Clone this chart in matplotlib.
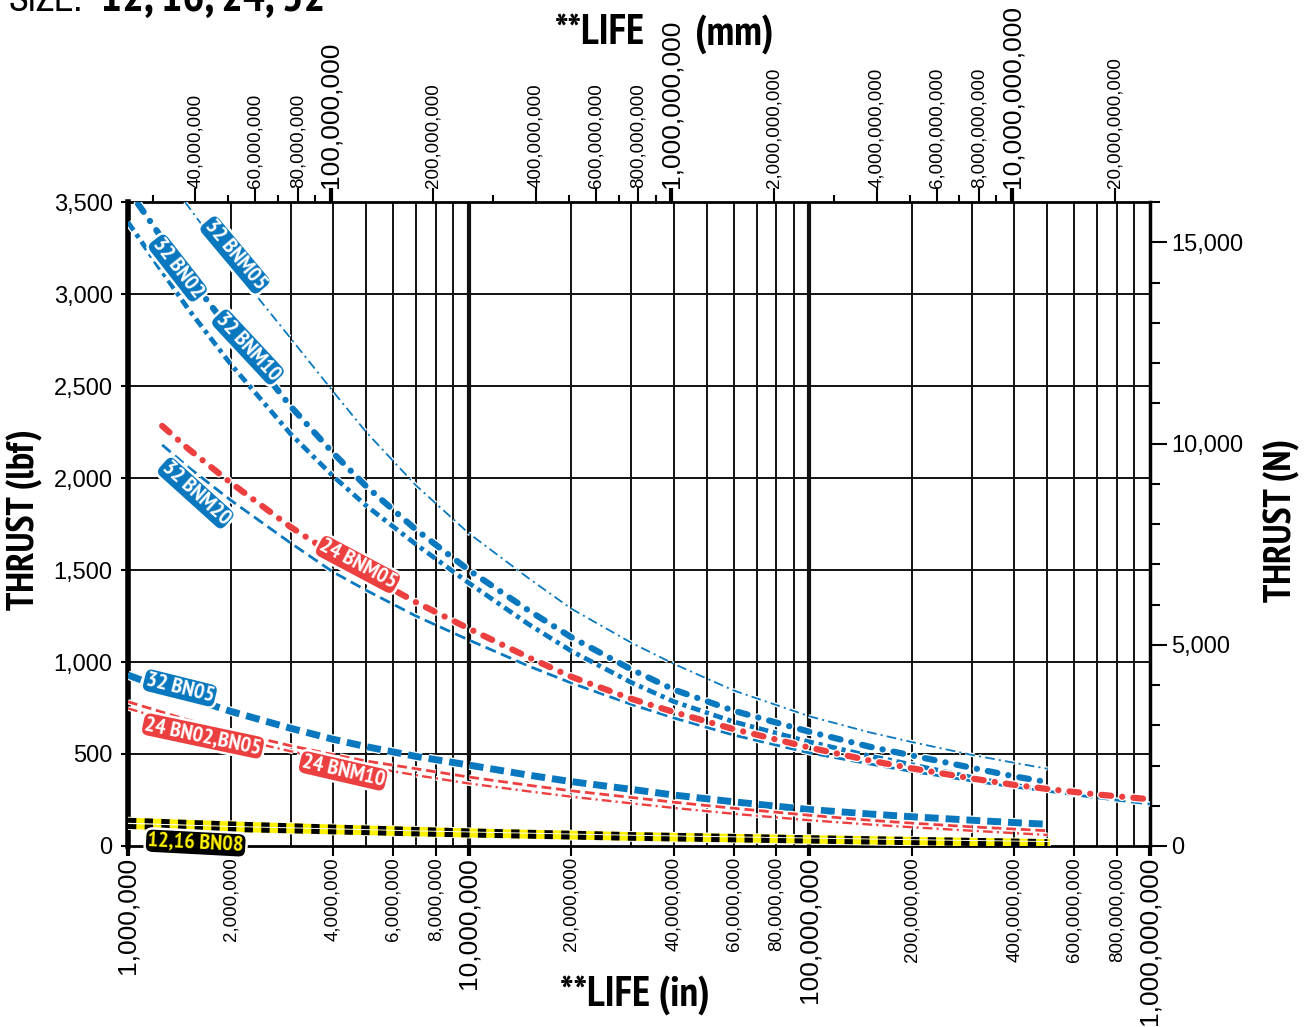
import matplotlib
matplotlib.use('Agg')
import matplotlib.pyplot as plt
import matplotlib.patheffects as pe
from matplotlib import font_manager as fm
from matplotlib.ticker import NullLocator, FixedLocator

plt.rcParams['lines.scale_dashes'] = False
plt.rcParams['font.family'] = ['Liberation Sans', 'DejaVu Sans']

BLUE = '#0a78bf'
RED = '#ec4040'
YELLOW = '#fff200'

# --- curves: life (in) vs thrust (lbf) ---
bnm05_32_life = [1.47e6, 2e6, 3e6, 4e6, 5e6, 7e6, 1e7, 1.5e7, 2e7, 3e7, 4e7, 6e7,
                 1e8, 1.5e8, 2e8, 3e8, 4e8, 5e8]
bnm05_32_lbf = [3500, 3165, 2760, 2470, 2250, 1960, 1700, 1455, 1290, 1105, 990, 845,
                705, 618, 565, 495, 452, 420]

bnm10_32_life = [1.07e6, 1.5e6, 2e6, 3e6, 4e6, 5e6, 7e6, 1e7, 1.5e7, 2e7, 3e7, 4e7, 6e7,
                 1e8, 1.5e8, 2e8, 3e8, 4e8, 5e8]
bnm10_32_lbf = [3490, 3100, 2800, 2390, 2136, 1955, 1720, 1500, 1280, 1135, 960, 850, 735,
                621, 540, 492, 425, 378, 347]

bn02_32_life = [1e6, 1.5e6, 2e6, 3e6, 4e6, 5e6, 7e6, 1e7, 1.5e7, 2e7, 3e7, 4e7, 6e7,
                1e8, 1.5e8, 2e8, 3e8, 4e8, 5e8]
bn02_32_lbf = [3390, 2920, 2620, 2240, 2010, 1850, 1640, 1430, 1205, 1060, 889, 785, 675,
               566, 490, 442, 373, 330, 305]

bnm05_24_life = [1.26e6, 1.5e6, 2e6, 3e6, 4e6, 5e6, 7e6, 1e7, 1.5e7, 2e7, 3e7, 4e7, 6e7,
                 1e8, 1.5e8, 2e8, 3e8, 4e8, 5e8, 7e8, 1e9]
bnm05_24_lbf = [2283, 2160, 1975, 1734, 1585, 1475, 1325, 1182, 1025, 920, 800, 728, 635,
                535, 465, 422, 367, 332, 310, 280, 254]

bnm20_32_life = [1.26e6, 1.5e6, 2e6, 3e6, 4e6, 5e6, 7e6, 1e7, 1.5e7, 2e7, 3e7, 4e7, 6e7,
                 1e8, 1.5e8, 2e8, 3e8, 4e8, 5e8, 7e8, 1e9]
bnm20_32_lbf = [2180, 2060, 1880, 1647, 1489, 1390, 1250, 1120, 978, 886, 770, 696, 603,
                506, 446, 405, 354, 320, 298, 262, 228]

bn05_32_life = [1e6, 1.5e6, 2e6, 3e6, 4e6, 5e6, 7e6, 1e7, 1.5e7, 2e7, 3e7, 4e7, 6e7,
                1e8, 1.5e8, 2e8, 3e8, 4e8, 5e8]
bn05_32_lbf = [929, 808, 732, 640, 580, 540, 487, 440, 385, 350, 308, 277, 240,
               198, 174, 159, 140, 127, 118]

bn02_24_life = [1e6, 1.5e6, 2e6, 3e6, 4e6, 5e6, 7e6, 1e7, 1.5e7, 2e7, 3e7, 4e7, 6e7,
                1e8, 1.5e8, 2e8, 3e8, 4e8, 5e8]
bn02_24_lbf = [784, 685, 622, 545, 497, 462, 420, 375, 330, 300, 264, 238, 205,
               167, 140, 124, 104, 92, 83]

bnm10_24_life = [1e6, 1.5e6, 2e6, 3e6, 4e6, 5e6, 7e6, 1e7, 1.5e7, 2e7, 3e7, 4e7, 6e7,
                 1e8, 1.5e8, 2e8, 3e8, 4e8, 5e8]
bnm10_24_lbf = [748, 650, 590, 515, 467, 432, 385, 340, 297, 268, 232, 207, 175,
                140, 117, 102, 83, 70, 60]

bn08_life = [1e6, 2e6, 4e6, 7e6, 1e7, 3e7, 1e8, 2e8, 5e8]
bn08_16_lbf = [140, 120, 103, 90, 82, 62, 45, 36, 24]
bn08_12_lbf = [106, 90, 77, 66, 60, 42, 27, 18, 8]

# curve tags: text, life, lbf, angle
tag_text = ['32 BNM05', '32 BN02', '32 BNM10', '32 BNM20', '24 BNM05',
            '32 BN05', '24 BN02,BN05', '24 BNM10', '12,16 BN08']
tag_life = [2.06e6, 1.40e6, 2.25e6, 1.58e6, 4.73e6, 1.42e6, 1.66e6, 4.28e6, 1.58e6]
tag_lbf = [3212, 3141, 2712, 1918, 1530, 859, 598, 408, 16]
tag_angle = [-50, -52, -47, -42, -28, -14, -12, -13, -3]
tag_color = [BLUE, BLUE, BLUE, BLUE, RED, BLUE, RED, RED, 'black']

# axis ticks
in_ticks = [1e6, 2e6, 4e6, 6e6, 8e6, 1e7, 2e7, 4e7, 6e7, 8e7, 1e8, 2e8, 4e8, 6e8, 8e8, 1e9]
mm_ticks = [4e7, 6e7, 8e7, 1e8, 2e8, 4e8, 6e8, 8e8, 1e9, 2e9, 4e9, 6e9, 8e9, 1e10, 2e10]
mm_minor = [3e7, 5e7, 7e7, 9e7, 3e8, 5e8, 7e8, 9e8, 3e9, 5e9, 7e9, 9e9]
lbf_ticks = [0, 500, 1000, 1500, 2000, 2500, 3000, 3500]
n_ticks = [0, 5000, 10000, 15000]
n_minor = [1000, 2000, 3000, 4000, 6000, 7000, 8000, 9000, 11000, 12000, 13000, 14000, 16000]


def pick_font(bold=True):
    # look for an installed condensed / narrow face, else fall back to Liberation Sans
    ranked = []
    for f in fm.fontManager.ttflist:
        key = (f.name + f.fname.split('/')[-1]).lower().replace(' ', '').replace('-', '').replace('_', '')
        if f.style != 'normal' or 'italic' in key or 'oblique' in key:
            continue
        w = f.weight if isinstance(f.weight, int) else {'bold': 700}.get(f.weight, 400)
        if (w == 700) != bold or (not bold and w != 400):
            continue
        if 'extracondensed' in key or 'ultracondensed' in key:
            score = 3
        elif 'semicondensed' in key:
            score = 2
        elif 'narrow' in key:
            score = 0
        elif 'condensed' in key or 'cond' in key:
            score = 1
        else:
            continue
        ranked.append((score, f.fname))
    if ranked:
        return fm.FontProperties(fname=min(ranked)[1])
    return fm.FontProperties(family=['Liberation Sans', 'DejaVu Sans'],
                             weight='bold' if bold else 'normal')


COND_B = pick_font(True)
COND_R = pick_font(False)

W, H = 1310, 1027
fig = plt.figure(figsize=(W / 100, H / 100), dpi=100)
ax = fig.add_axes([128 / W, 1 - 846 / H, (1150 - 128) / W, (846 - 202) / H])
ax.set_xscale('log')
ax.set_xlim(1e6, 1e9)
ax.set_ylim(0, 3500)

# grid
for dec in [1e6, 1e7, 1e8]:
    for m in range(1, 10):
        ax.axvline(m * dec, color='#111111', lw=3.0 if m == 1 else 1.4, zorder=1)
for v in lbf_ticks[1:-1]:
    ax.axhline(v, color='#111111', lw=1.4, zorder=1)


def draw(life, lbf, color, lw, dashes, cap='butt'):
    ln, = ax.plot(life, lbf, color=color, lw=lw, dashes=dashes, dash_capstyle=cap,
                  solid_joinstyle='round', zorder=3)
    ln.set_path_effects([pe.Stroke(linewidth=lw + 1.8, foreground='white'), pe.Normal()])
    return ln


draw(bnm05_32_life, bnm05_32_lbf, BLUE, 1.3, (7, 3, 1.5, 3))
draw(bn02_32_life, bn02_32_lbf, BLUE, 3.4, (7, 3.5, 3, 3.5))
draw(bnm10_32_life, bnm10_32_lbf, BLUE, 4.5, (7, 8, 0.1, 8), cap='round')
draw(bnm20_32_life, bnm20_32_lbf, BLUE, 2.0, (8, 4))
draw(bnm05_24_life, bnm05_24_lbf, RED, 4.5, (7, 8, 0.1, 8), cap='round')
draw(bn05_32_life, bn05_32_lbf, BLUE, 5.0, (10, 5))
draw(bn02_24_life, bn02_24_lbf, RED, 2.0, (7, 3.5))
draw(bnm10_24_life, bnm10_24_lbf, RED, 1.7, (7, 3, 1.5, 3))
for lbf in [bn08_16_lbf, bn08_12_lbf]:
    ax.plot(bn08_life, lbf, color=YELLOW, lw=3.6, zorder=3,
            path_effects=[pe.Stroke(linewidth=5, foreground='white'), pe.Normal()])
    ax.plot(bn08_life, lbf, color='black', lw=3.6, dashes=(6, 6), zorder=3)

for s, x, y, a, c in zip(tag_text, tag_life, tag_lbf, tag_angle, tag_color):
    ax.text(x, y, s, rotation=a, rotation_mode='anchor', ha='center', va='center',
            color=YELLOW if c == 'black' else 'white', fontproperties=COND_B, fontsize=16,
            zorder=6,
            bbox=dict(boxstyle='round,pad=0.13,rounding_size=0.35', fc=c, ec='white', lw=1.8))

# bottom axis (inches)
ax.xaxis.set_major_locator(FixedLocator(in_ticks))
ax.xaxis.set_minor_locator(NullLocator())
ax.set_xticklabels([f'{int(v):,}' for v in in_ticks])
ax.tick_params(axis='x', direction='out', length=7, width=1.5, pad=1, labelrotation=90)
for t, v in zip(ax.xaxis.get_major_ticks(), in_ticks):
    big = v in (1e6, 1e7, 1e8, 1e9)
    t.label1.set_fontsize(19 if big else 13.5)
    t.tick1line.set_markeredgewidth(3 if big else 1.5)

ax.set_yticks(lbf_ticks)
ax.set_yticklabels([f'{v:,}' for v in lbf_ticks])
ax.tick_params(axis='y', direction='out', length=5, width=1.5, pad=6, labelsize=17)

for side, lw in [('left', 4), ('bottom', 2), ('right', 2.5), ('top', 2)]:
    ax.spines[side].set_linewidth(lw)

# top axis (mm)
top = ax.twiny()
top.set_xscale('log')
top.set_xlim(1e6 * 25.4, 1e9 * 25.4)
top.xaxis.set_major_locator(FixedLocator(mm_ticks))
top.xaxis.set_minor_locator(FixedLocator(mm_minor))
top.set_xticklabels([f'{int(v):,}' for v in mm_ticks])
top.xaxis.set_minor_formatter(plt.NullFormatter())
top.tick_params(axis='x', which='major', direction='out', length=10, width=1.5, pad=0, labelrotation=90)
top.tick_params(axis='x', which='minor', direction='out', length=5, width=1.5)
for t, v in zip(top.xaxis.get_major_ticks(), mm_ticks):
    big = v in (1e8, 1e9, 1e10)
    t.label2.set_fontsize(19 if big else 13.5)
    t.tick2line.set_markeredgewidth(3 if big else 1.5)
for s in top.spines.values():
    s.set_visible(False)

# right axis (N)
right = ax.twinx()
right.set_ylim(0, 16000)
right.set_yticks(n_ticks)
right.set_yticklabels([f'{v:,}' for v in n_ticks])
right.set_yticks(n_minor, minor=True)
right.tick_params(axis='y', which='major', direction='out', length=12, width=1.5, pad=3, labelsize=17)
right.tick_params(axis='y', which='minor', direction='out', length=7, width=1.5)
for s in right.spines.values():
    s.set_visible(False)

# titles
fig.text(25 / W, 1 - 520 / H, 'THRUST (lbf)', rotation=90, ha='center', va='center',
         fontproperties=COND_B, fontsize=28)
fig.text(1282 / W, 1 - 520 / H, 'THRUST (N)', rotation=90, ha='center', va='center',
         fontproperties=COND_B, fontsize=28)
fig.text(635 / W, 1 - 996 / H, '**LIFE (in)', ha='center', va='center',
         fontproperties=COND_B, fontsize=30)
fig.text(645 / W, 1 - 34 / H, '**LIFE', ha='right', va='center',
         fontproperties=COND_B, fontsize=30)
fig.text(695 / W, 1 - 34 / H, '(mm)', ha='left', va='center',
         fontproperties=COND_B, fontsize=30)
fig.text(8 / W, 1 - 11 / H, 'SIZE:', ha='left', va='baseline', fontproperties=COND_R, fontsize=26)
fig.text(100 / W, 1 - 11 / H, '12, 16, 24, 32', ha='left', va='baseline',
         fontproperties=COND_B, fontsize=33)

fig.savefig('out.png', dpi=100)
